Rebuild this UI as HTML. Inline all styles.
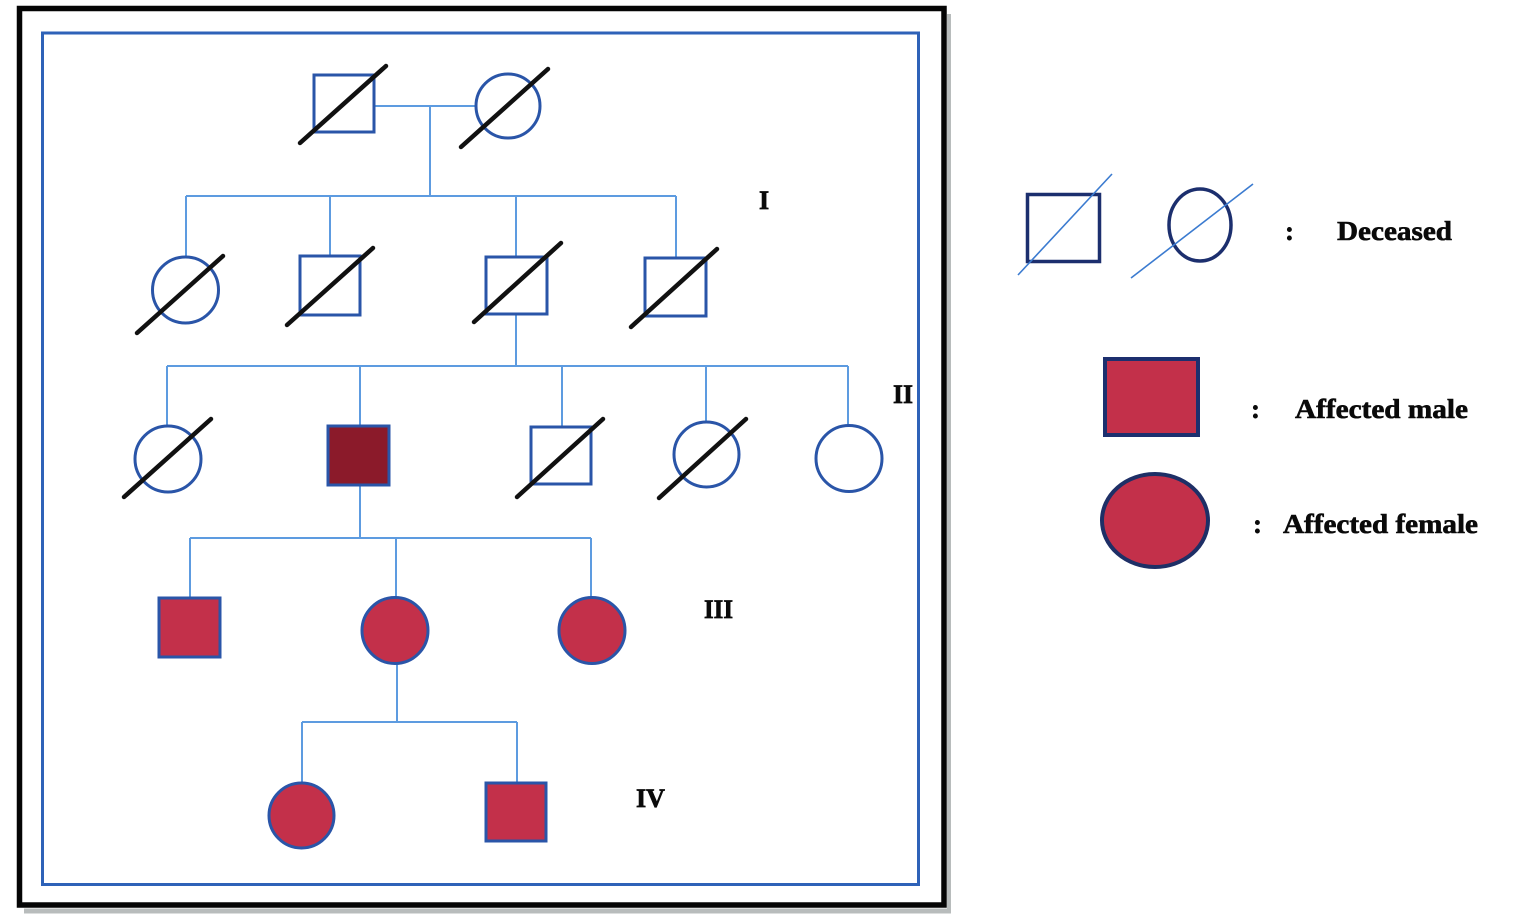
<!DOCTYPE html>
<html>
<head>
<meta charset="utf-8">
<style>
  html,body{margin:0;padding:0;background:#fff;}
  svg{display:block;}
  .lbl{font-family:"Liberation Serif",serif;font-weight:bold;fill:#0a0a0a;}
</style>
</head>
<body>
<svg width="1524" height="922" viewBox="0 0 1524 922" xmlns="http://www.w3.org/2000/svg">
  <rect x="0" y="0" width="1524" height="922" fill="#ffffff"/>

  <!-- shadow of black frame -->
  <line x1="949" y1="14" x2="949" y2="912" stroke="#b8bcbc" stroke-width="4"/>
  <line x1="24" y1="911" x2="951" y2="911" stroke="#b8bcbc" stroke-width="5"/>
  <!-- black frame -->
  <rect x="19.5" y="8.5" width="924.5" height="896.5" fill="none" stroke="#050505" stroke-width="5.5"/>
  <!-- blue inner frame -->
  <rect x="42.5" y="33" width="876" height="851.5" fill="none" stroke="#2e62b8" stroke-width="3"/>

  <!-- connector lines -->
  <g stroke="#5d9be0" stroke-width="2" fill="none">
    <line x1="374" y1="106" x2="476" y2="106"/>
    <line x1="430" y1="106" x2="430" y2="196"/>
    <line x1="186" y1="196" x2="676" y2="196"/>
    <line x1="186" y1="196" x2="186" y2="258"/>
    <line x1="330" y1="196" x2="330" y2="256"/>
    <line x1="516" y1="196" x2="516" y2="257"/>
    <line x1="676" y1="196" x2="676" y2="258"/>
    <line x1="516" y1="314" x2="516" y2="366"/>
    <line x1="167" y1="366" x2="848" y2="366"/>
    <line x1="167" y1="366" x2="167" y2="426"/>
    <line x1="360" y1="366" x2="360" y2="426"/>
    <line x1="562" y1="366" x2="562" y2="427"/>
    <line x1="706" y1="366" x2="706" y2="422"/>
    <line x1="848" y1="366" x2="848" y2="426"/>
    <line x1="360" y1="485" x2="360" y2="538"/>
    <line x1="190" y1="538" x2="591" y2="538"/>
    <line x1="190" y1="538" x2="190" y2="598"/>
    <line x1="396" y1="538" x2="396" y2="598"/>
    <line x1="591" y1="538" x2="591" y2="598"/>
    <line x1="397" y1="663" x2="397" y2="722"/>
    <line x1="302" y1="722" x2="517" y2="722"/>
    <line x1="302" y1="722" x2="302" y2="783"/>
    <line x1="517" y1="722" x2="517" y2="783"/>
  </g>

  <!-- nodes -->
  <g stroke="#2a55a8" stroke-width="3" fill="#ffffff">
    <rect x="314" y="75" width="60" height="57"/>
    <circle cx="508" cy="106" r="32"/>
    <circle cx="185.5" cy="290" r="33"/>
    <rect x="300" y="256" width="60" height="59"/>
    <rect x="486" y="257" width="61" height="57"/>
    <rect x="645" y="258" width="61" height="58"/>
    <circle cx="168" cy="459" r="33"/>
    <rect x="328" y="426" width="61" height="59" fill="#8b1a2a"/>
    <rect x="531" y="427" width="60" height="57"/>
    <circle cx="706.5" cy="454.5" r="32.5"/>
    <circle cx="849" cy="458.5" r="33"/>
    <rect x="159" y="598" width="61" height="59" fill="#c3304a"/>
    <circle cx="395" cy="630.5" r="33" fill="#c3304a"/>
    <circle cx="592" cy="630.5" r="33" fill="#c3304a"/>
    <ellipse cx="301.5" cy="815.5" rx="32.5" ry="32.5" fill="#c3304a"/>
    <rect x="486" y="783" width="60" height="58" fill="#c3304a"/>
  </g>

  <!-- deceased slashes -->
  <g stroke="#111111" stroke-width="4.5" stroke-linecap="round">
    <line x1="300" y1="143" x2="386" y2="66"/>
    <line x1="461" y1="147" x2="548" y2="69"/>
    <line x1="137" y1="333" x2="223" y2="256"/>
    <line x1="287" y1="325" x2="373" y2="248"/>
    <line x1="474" y1="322" x2="561" y2="243"/>
    <line x1="631" y1="327" x2="717" y2="249"/>
    <line x1="124" y1="497" x2="211" y2="419"/>
    <line x1="517" y1="497" x2="603" y2="419"/>
    <line x1="659" y1="498" x2="746" y2="419"/>
  </g>

  <!-- generation labels -->
  <g class="lbl" stroke="#0a0a0a" stroke-width="0.7">
    <text x="759" y="209" font-size="26">I</text>
    <text x="893" y="403" font-size="26" textLength="20" lengthAdjust="spacingAndGlyphs">II</text>
    <text x="704" y="618" font-size="26" textLength="29" lengthAdjust="spacingAndGlyphs">III</text>
    <text x="636" y="807" font-size="26" textLength="29" lengthAdjust="spacingAndGlyphs">IV</text>
  </g>

  <!-- legend -->
  <rect x="1027.5" y="194.5" width="72" height="67" fill="none" stroke="#1c2f6e" stroke-width="3.5"/>
  <line x1="1018" y1="275" x2="1112" y2="174" stroke="#3b7bd0" stroke-width="1.6"/>
  <ellipse cx="1200" cy="225" rx="31" ry="36" fill="none" stroke="#1c2f6e" stroke-width="3.5"/>
  <line x1="1131" y1="278" x2="1253" y2="184" stroke="#3b7bd0" stroke-width="1.6"/>

  <rect x="1105" y="359" width="93" height="76" fill="#c3304a" stroke="#1c2f6e" stroke-width="4"/>
  <ellipse cx="1155" cy="520.5" rx="53" ry="46.5" fill="#c3304a" stroke="#1e2f66" stroke-width="4"/>

  <g class="lbl" stroke="#0a0a0a" stroke-width="0.6">
    <text x="1285" y="240" font-size="27">:</text>
    <text x="1337" y="240" font-size="27" textLength="115" lengthAdjust="spacingAndGlyphs">Deceased</text>
    <text x="1251" y="418" font-size="27">:</text>
    <text x="1295" y="418" font-size="27" textLength="173" lengthAdjust="spacingAndGlyphs">Affected male</text>
    <text x="1253" y="533" font-size="27">:</text>
    <text x="1283" y="533" font-size="27" textLength="195" lengthAdjust="spacingAndGlyphs">Affected female</text>
  </g>
</svg>
</body>
</html>
